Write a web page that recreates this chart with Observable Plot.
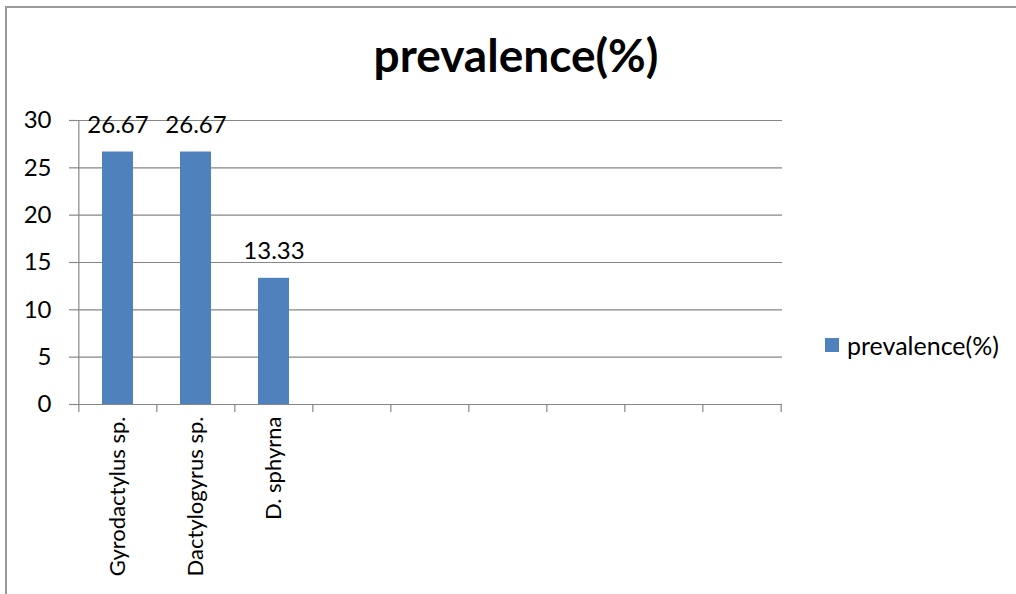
<!DOCTYPE html>
<html>
<head>
<meta charset="utf-8">
<script src="https://cdn.jsdelivr.net/npm/d3@7"></script>
<script src="https://cdn.jsdelivr.net/npm/@observablehq/plot@0.6"></script>
<style>
  html, body { margin: 0; padding: 0; background: #fff; overflow: hidden; }
  #page { position: relative; width: 1016px; height: 594px; overflow: hidden; font-family: Lato, "Open Sans", sans-serif; }
  #frame { position: absolute; left: 5px; top: 6px; right: 0; bottom: 0; border-left: 2px solid #9a9a9a; border-top: 2px solid #9a9a9a; }
  #title { position: absolute; left: 516px; top: 32px; transform: translateX(-50%); font-size: 46px; font-weight: 700; line-height: 1; white-space: nowrap; color: #000; }
  #chart { position: absolute; left: 0; top: 0; }
  #legend { position: absolute; left: 825px; top: 331px; display: flex; align-items: center; font-size: 25px; line-height: 28px; color: #000; }
  #legend .swatch { width: 14px; height: 14px; background: #4F81BD; margin-right: 8px; flex: none; }
</style>
</head>
<body>
<div id="page">
  <div id="frame"></div>
  <div id="chart"></div>
  <div id="title"></div>
  <div id="legend"></div>
</div>
<script>
// Parasite prevalence per species
const chartTitle = "prevalence(%)";
const seriesName = "prevalence(%)";
const species = ["Gyrodactylus sp.", "Dactylogyrus sp.", "D. sphyrna"];
const prevalence = [26.67, 26.67, 13.33];
const yTicks = [0, 5, 10, 15, 20, 25, 30];
const slotCount = 9; // category axis keeps nine slots, only three are filled

const barColor = "#4F81BD";
const lineColor = "#868686";

const slots = [...species, ...d3.range(species.length, slotCount).map(i => `empty-${i}`)];
const rows = species.map((s, i) => ({species: s, value: prevalence[i]}));

const W = 1016, H = 594;
const marginLeft = 77, marginRight = 234, marginTop = 120, marginBottom = 190;
const step = (W - marginLeft - marginRight) / slotCount;

const chart = Plot.plot({
  width: W,
  height: H,
  marginLeft, marginRight, marginTop, marginBottom,
  style: {fontFamily: "Lato, 'Open Sans', sans-serif", background: "transparent", color: "#000"},
  x: {domain: slots, paddingInner: 0.6, paddingOuter: 0.3, align: 0.5},
  y: {domain: [0, 30]},
  marks: [
    // horizontal gridlines
    Plot.ruleY(yTicks, {stroke: lineColor, strokeWidth: 1.2}),
    // vertical value axis line
    Plot.ruleX([slots[0]], {x: d => d, y1: 0, y2: 30, dx: -step / 2, stroke: lineColor, strokeWidth: 1.2}),
    // category boundary ticks
    Plot.ruleX(slots, {x: d => d, y1: 0, y2: 0, insetBottom: -8, dx: -step / 2, stroke: lineColor, strokeWidth: 1.2}),
    Plot.ruleX([slots[slots.length - 1]], {x: d => d, y1: 0, y2: 0, insetBottom: -8, dx: step / 2, stroke: lineColor, strokeWidth: 1.2}),
    Plot.barY(rows, {x: "species", y: "value", fill: barColor}),
    Plot.text(rows, {x: "species", y: "value", text: d => d.value.toFixed(2), lineAnchor: "bottom", dy: -19, fontSize: 24, fill: "#000"}),
    Plot.axisY({ticks: yTicks, tickSize: 8, tickPadding: 18, fontSize: 24, stroke: lineColor, strokeWidth: 1.2, label: null, color: "#000"}),
    Plot.axisX({tickSize: 0, tickPadding: 12, tickRotate: -90, fontSize: 22, label: null,
      tickFormat: d => species.includes(d) ? d : ""})
  ]
});
document.getElementById("chart").appendChild(chart);

document.getElementById("title").textContent = chartTitle;
const legend = document.getElementById("legend");
const sw = document.createElement("div");
sw.className = "swatch";
const lab = document.createElement("span");
lab.textContent = seriesName;
legend.append(sw, lab);
</script>
</body>
</html>
